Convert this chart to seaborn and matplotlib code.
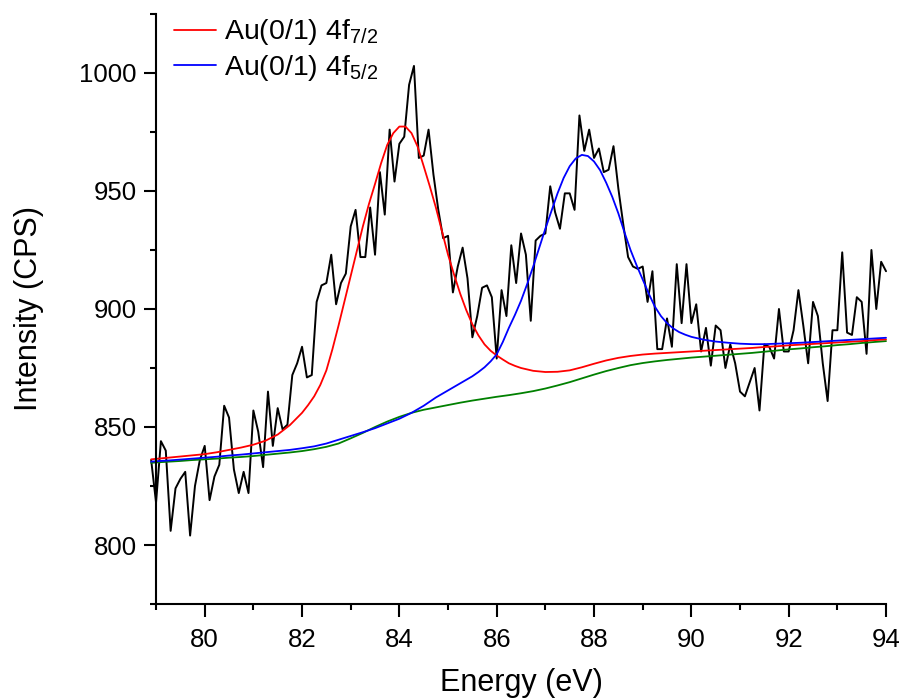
"""
Au 4f XPS spectrum with peak fits and background.
"""

import numpy as np
import pandas as pd
import matplotlib
matplotlib.use("Agg")
import matplotlib.pyplot as plt
from matplotlib.ticker import MultipleLocator
import seaborn as sns


# measured spectrum, 0.1 eV steps from 78.9 eV
energy = np.round(np.arange(78.9, 94.05, 0.1), 1)
counts = [
    836, 818, 844, 840, 806, 824, 828, 831, 804, 825,
    836, 842, 819, 829, 834, 859, 854, 832, 822, 831,
    822, 857, 848, 833, 865, 842, 858, 849, 851, 872,
    877, 884, 871, 872, 903, 910, 911, 923, 902, 911,
    915, 935, 942, 922, 922, 943, 923, 958, 940, 976,
    954, 970, 973, 995, 1003, 964, 965, 976, 957, 942,
    930, 931, 907, 918, 926, 913, 888, 897, 909, 910,
    905, 879, 908, 897, 927, 911, 932, 923, 895, 929,
    931, 932, 952, 941, 934, 949, 949, 942, 982, 967,
    976, 964, 968, 958, 959, 969, 951, 936, 922, 918,
    917, 918, 903, 916, 883, 883, 896, 884, 919, 894,
    919, 894, 902, 882, 892, 876, 893, 891, 875, 885,
    877, 865, 863, 869, 875, 857, 885, 884, 879, 900,
    882, 882, 891, 908, 893, 877, 903, 897, 877, 861,
    891, 891, 924, 890, 889, 905, 903, 881, 925, 900,
    920, 916,
]

# fitted curves (finer steps across each peak)
red_energy = np.concatenate((
    [78.9], np.arange(79.0, 82.0, 0.25),
    np.arange(82.0, 86.5, 0.125), np.arange(86.5, 94.01, 0.25),
))
peak_72 = [
    836.3,
    836.5, 837.0, 837.5, 838.0, 838.5, 839.3, 840.3, 841.3, 842.5, 844.2,
    846.8, 850.8,
    856.0, 859.3, 863.0, 867.8, 874.0, 883.0, 893.0, 903.5, 914.0, 924.5,
    935.0, 944.5, 953.0, 961.8, 969.5, 974.5, 977.3, 977.3, 974.5, 968.8,
    960.5, 952.0, 943.0, 933.0, 923.0, 914.5, 906.5, 899.5, 893.5, 888.8,
    885.0, 882.3, 880.3, 878.6, 877.0, 875.9,
    875.0, 873.8, 873.3, 873.4, 874.0, 875.3, 876.8, 878.2, 879.3, 880.1,
    880.7, 881.1, 881.4, 881.7, 882.0, 882.3, 882.6, 882.9, 883.2, 883.5,
    883.9, 884.2, 884.6, 884.9, 885.2, 885.5, 885.8, 886.1, 886.4, 886.8,
    887.1,
]

blue_energy = np.concatenate((
    [78.9], np.arange(79.0, 85.5, 0.25),
    np.arange(85.5, 90.0, 0.125), np.arange(90.0, 94.01, 0.25),
))
peak_52 = [
    835.3,
    835.5, 835.8, 836.2, 836.6, 837.0, 837.4, 837.9, 838.3, 838.8, 839.3,
    839.8, 840.3, 841.0, 841.8, 843.0, 844.6, 846.2, 847.8, 849.5, 851.5,
    853.5, 856.0, 859.0, 862.5, 865.5, 868.5,
    871.5, 873.3, 875.3, 877.8, 880.8, 886.0, 892.0, 897.5, 903.5, 910.5,
    918.0, 926.0, 934.0, 941.5, 949.0, 955.5, 960.5, 963.8, 965.3, 964.8,
    962.5, 958.8, 953.5, 947.5, 940.5, 932.5, 925.0, 918.5, 912.5, 906.5,
    901.0, 897.0, 894.0, 891.8, 890.2, 889.1,
    888.2, 887.0, 886.2, 885.7, 885.3, 885.1, 885.1, 885.3, 885.5, 885.7,
    886.0, 886.3, 886.6, 886.9, 887.2, 887.5, 887.8,
]

bg_energy = np.concatenate(([78.9], np.arange(79.0, 94.01, 0.25)))
background = [
    834.8, 835.0, 835.3, 835.6, 836.0, 836.3, 836.6, 837.0, 837.3, 837.7,
    838.2, 838.7, 839.2, 839.8, 840.6, 841.6, 843.0, 845.2, 847.5, 850.0,
    852.3, 854.3, 856.0, 857.3, 858.3, 859.3, 860.3, 861.2, 862.0, 862.8,
    863.5, 864.3, 865.2, 866.3, 867.6, 869.0, 870.6, 872.2, 873.7, 875.0,
    876.2, 877.1, 877.8, 878.4, 878.9, 879.4, 879.8, 880.2, 880.6, 881.0,
    881.4, 881.9, 882.4, 882.9, 883.3, 883.8, 884.2, 884.7, 885.1, 885.6,
    886.0, 886.4,
]

legend_labels = ["Au(0/1) 4f$_{7/2}$", "Au(0/1) 4f$_{5/2}$"]


def main():
    sns.set_style("ticks")
    plt.rcParams["font.family"] = ["Liberation Sans", "DejaVu Sans"]
    plt.rcParams["mathtext.default"] = "regular"
    for key in ["text.color", "axes.labelcolor", "axes.edgecolor",
                "xtick.color", "ytick.color"]:
        plt.rcParams[key] = "black"

    spectrum = pd.DataFrame({"Energy": energy, "Counts": counts})
    red_fit = pd.DataFrame({"Energy": red_energy, "Fit": peak_72})
    blue_fit = pd.DataFrame({"Energy": blue_energy, "Fit": peak_52})
    bg_fit = pd.DataFrame({"Energy": bg_energy, "Fit": background})

    fig = plt.figure(figsize=(9.03, 6.99), dpi=100)
    ax = fig.add_axes([0.1728, 0.1359, 0.8084, 0.8441])

    sns.lineplot(data=spectrum, x="Energy", y="Counts", color="black",
                 linewidth=1.4, ax=ax)
    sns.lineplot(data=bg_fit, x="Energy", y="Fit", color="#008000",
                 linewidth=1.3, ax=ax)
    sns.lineplot(data=red_fit, x="Energy", y="Fit", color="#FF0000",
                 linewidth=1.3, ax=ax)
    red_line = ax.lines[-1]
    sns.lineplot(data=blue_fit, x="Energy", y="Fit", color="#0000FF",
                 linewidth=1.3, ax=ax)
    blue_line = ax.lines[-1]
    for line in ax.lines:
        line.set_clip_on(False)

    ax.set_xlim(79, 94)
    ax.set_ylim(775, 1025)
    ax.xaxis.set_major_locator(MultipleLocator(2))
    ax.xaxis.set_minor_locator(MultipleLocator(1))
    ax.yaxis.set_major_locator(MultipleLocator(50))
    ax.yaxis.set_minor_locator(MultipleLocator(25))

    sns.despine(ax=ax)
    for side in ["left", "bottom"]:
        ax.spines[side].set_linewidth(1.5)
    ax.tick_params(which="major", direction="out", length=9, width=1.5,
                   labelsize=18.5, pad=5)
    ax.tick_params(which="minor", direction="out", length=4.5, width=1.5)
    ax.tick_params(axis="x", which="major", pad=8)

    ax.set_xlabel("Energy (eV)", fontsize=22, labelpad=12)
    ax.set_ylabel("Intensity (CPS)", fontsize=22, labelpad=25)

    ax.legend([red_line, blue_line], legend_labels, loc="upper left",
              bbox_to_anchor=(0.193, 0.975), bbox_transform=fig.transFigure,
              frameon=False, fontsize=20.5, handlelength=1.45,
              handletextpad=0.3, labelspacing=0.18, borderpad=0,
              borderaxespad=0)

    fig.savefig("out.png", dpi=100)


if __name__ == "__main__":
    main()
